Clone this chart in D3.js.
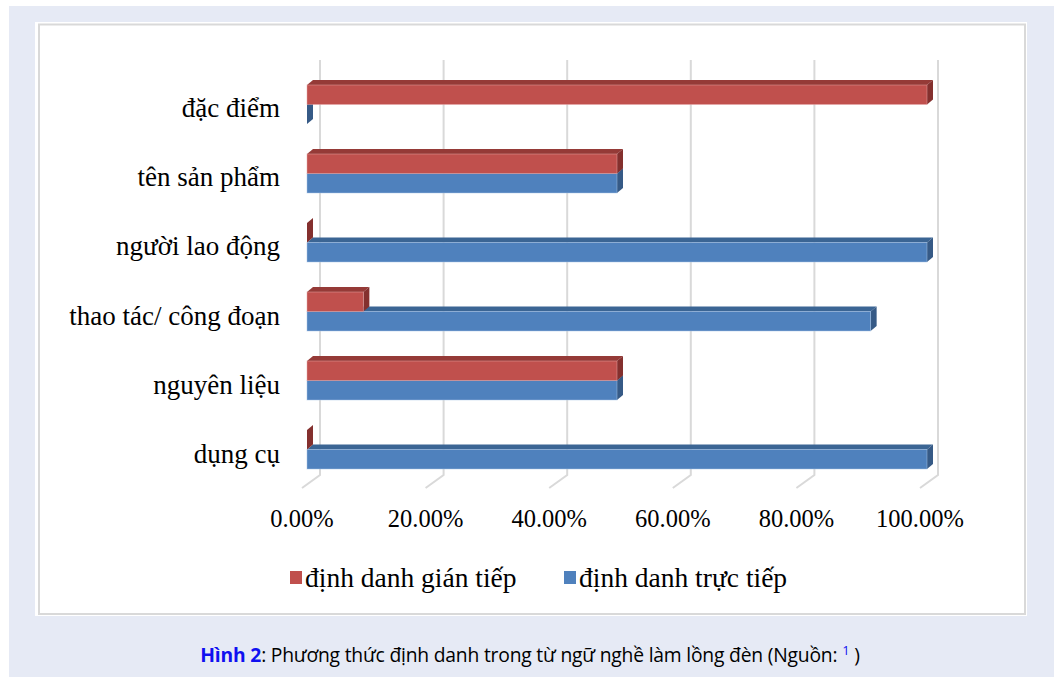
<!DOCTYPE html>
<html>
<head>
<meta charset="utf-8">
<script src="https://cdn.jsdelivr.net/npm/d3@7"></script>
<style>
  html, body { margin: 0; padding: 0; background: #ffffff; }
  svg { display: block; }
</style>
</head>
<body>
<svg id="chart" width="1059" height="677"></svg>
<script>
// Categories listed top to bottom as they appear on the axis
const categories = ["đặc điểm", "tên sản phẩm", "người lao động", "thao tác/ công đoạn", "nguyên liệu", "dụng cụ"];
// Share of terms named indirectly / directly in each group
const indirectValues = [1.00, 0.50, 0.00, 0.0909, 0.50, 0.00];
const directValues   = [0.00, 0.50, 1.00, 0.9091, 0.50, 1.00];
const seriesNames = ["định danh gián tiếp", "định danh trực tiếp"];
const tickValues = [0, 0.2, 0.4, 0.6, 0.8, 1.0];

const svg = d3.select("#chart");

// page panel and chart frame
svg.append("rect").attr("x", 9).attr("y", 6).attr("width", 1045).attr("height", 671).attr("fill", "#e6eaf5");
svg.append("rect").attr("x", 35).attr("y", 22).attr("width", 992).attr("height", 594).attr("fill", "#ffffff");
svg.append("rect").attr("x", 39).attr("y", 24.5).attr("width", 986).attr("height", 589.5)
  .attr("fill", "none").attr("stroke", "#d9d9d9").attr("stroke-width", 2);

// 3D geometry: back wall, floor front edge and bar front faces use parallel scales
const wallTop = 60, wallBottom = 475, floorFront = 488;
const xWall  = d3.scaleLinear().domain([0, 1]).range([320, 938]);
const xFloor = d3.scaleLinear().domain([0, 1]).range([302, 920]);
const xBar   = d3.scaleLinear().domain([0, 1]).range([307, 927]);
const depthX = 6, depthY = -5;

const y = d3.scaleBand().domain(categories).range([67.75, 486.25]).paddingInner(0.435).paddingOuter(0.25);
const ySub = d3.scaleBand().domain(["indirect", "direct"]).range([0, y.bandwidth()]);

// gridlines on the back wall and across the floor
const grid = svg.append("g");
tickValues.forEach(v => {
  grid.append("path")
    .attr("d", `M${xWall(v)},${wallTop}L${xWall(v)},${wallBottom}L${xFloor(v)},${floorFront}`)
    .attr("fill", "none").attr("stroke", "#d9d9d9").attr("stroke-width", 2);
});

// value axis labels centred under the floor edge
const fmt = d3.format(".2%");
svg.append("g").selectAll("text").data(tickValues).join("text")
  .attr("x", d => xFloor(d)).attr("y", 527)
  .attr("text-anchor", "middle")
  .attr("font-family", "'Liberation Serif', 'Times New Roman', serif")
  .attr("font-size", 24.5).attr("fill", "#000")
  .text(d => fmt(d));

// category labels
svg.append("g").selectAll("text").data(categories).join("text")
  .attr("x", 280).attr("y", d => y(d) + y.bandwidth() / 2 + 13)
  .attr("text-anchor", "end")
  .attr("font-family", "'Liberation Serif', 'Times New Roman', serif")
  .attr("font-size", 27).attr("fill", "#000")
  .text(d => d);

const palette = {
  indirect: { front: "#c0504d", top: "#953a37", side: "#84302e", edge: "#e6a9a7" },
  direct:   { front: "#4f81bd", top: "#3b6594", side: "#365a86", edge: "#a9c4e6" }
};

function drawSeries(key, values) {
  const c = palette[key];
  const g = svg.append("g");
  categories.forEach((cat, i) => {
    const x0 = xBar(0), x1 = xBar(values[i]);
    const y0 = y(cat) + ySub(key), h = ySub.bandwidth();
    // top face
    g.append("path")
      .attr("d", `M${x0},${y0}L${x0 + depthX},${y0 + depthY}L${x1 + depthX},${y0 + depthY}L${x1},${y0}Z`)
      .attr("fill", c.top);
    // side face
    g.append("path")
      .attr("d", `M${x1},${y0}L${x1 + depthX},${y0 + depthY}L${x1 + depthX},${y0 + h + depthY}L${x1},${y0 + h}Z`)
      .attr("fill", c.side);
    // front face
    g.append("rect")
      .attr("x", x0).attr("y", y0).attr("width", x1 - x0).attr("height", h)
      .attr("fill", c.front).attr("stroke", c.edge).attr("stroke-width", 0.8).attr("stroke-opacity", 0.6);
  });
}
drawSeries("direct", directValues);
drawSeries("indirect", indirectValues);

// legend
const legend = svg.append("g").attr("font-family", "'Liberation Serif', 'Times New Roman', serif").attr("font-size", 27.5);
const legendItems = [
  { name: seriesNames[0], color: palette.indirect.front, x: 290 },
  { name: seriesNames[1], color: palette.direct.front, x: 564 }
];
legendItems.forEach(it => {
  legend.append("rect").attr("x", it.x).attr("y", 571).attr("width", 12).attr("height", 13).attr("fill", it.color);
  legend.append("text").attr("x", it.x + 15).attr("y", 587).attr("fill", "#000").text(it.name);
});

// caption below the frame
const cap = svg.append("text").attr("x", 530).attr("y", 662).attr("text-anchor", "middle")
  .attr("font-family", "'Open Sans', 'Noto Sans', sans-serif").attr("font-size", 19.3).attr("fill", "#000")
  .attr("letter-spacing", -0.2);
cap.append("tspan").attr("font-weight", "bold").attr("fill", "#1010f0").text("Hình 2");
cap.append("tspan").text(": Phương thức định danh trong từ ngữ nghề làm lồng đèn (Nguồn: ");
cap.append("tspan").attr("fill", "#1010f0").attr("font-size", 13).attr("dy", -7).text("1");
cap.append("tspan").attr("dy", 7).text(" )");
</script>
</body>
</html>
